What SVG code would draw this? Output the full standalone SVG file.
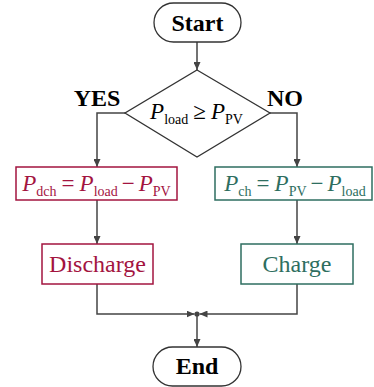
<svg xmlns="http://www.w3.org/2000/svg" width="374" height="387" viewBox="0 0 374 387">
<style>
text{font-family:"Liberation Serif","Times New Roman",serif;}
.term{fill:#fff;stroke:#333;stroke-width:1.3;}
.lbl{font-size:24px;font-weight:bold;fill:#000;text-anchor:middle;}
.red{stroke:#a3143f;fill:#fff;stroke-width:1.5;}
.grn{stroke:#2e6e60;fill:#fff;stroke-width:1.5;}
.tred{fill:#a3143f;}
.tgrn{fill:#2e6e60;}
.eq{font-size:23px;text-anchor:middle;}
.it{font-style:italic;}
.sub{font-size:14px;}
.big{font-size:24px;text-anchor:middle;}
.conn path{fill:none;stroke:#444;stroke-width:1.5;}
</style>
<defs>
<marker id="arr" viewBox="0 0 8 7" refX="8" refY="3.5" markerWidth="8" markerHeight="7" orient="auto" markerUnits="userSpaceOnUse">
<path d="M0,0 L8,3.5 L0,7 z" fill="#444"/>
</marker>
</defs>
<g id="connectors" class="conn">
<path d="M197,42 V70" marker-end="url(#arr)"/>
<path d="M125,113 H97 V167" marker-end="url(#arr)"/>
<path d="M270,113 H297 V167" marker-end="url(#arr)"/>
<path d="M97,200 V244" marker-end="url(#arr)"/>
<path d="M297,200 V244" marker-end="url(#arr)"/>
<path d="M97,284 V314 H194.5" marker-end="url(#arr)"/>
<path d="M297,284 V314 H199.5" marker-end="url(#arr)"/>
<path d="M197,314 V347" marker-end="url(#arr)"/>
<circle cx="197" cy="314" r="2.6" fill="#444"/>
</g>
<g id="start">
<rect class="term" x="154" y="3" width="87" height="39" rx="19.5"/>
<text class="lbl" x="197.5" y="31">Start</text>
</g>
<g id="decision">
<polygon points="197,70 270,113 197,157 125,113" fill="#fff" stroke="#333" stroke-width="1.3"/>
<text class="eq" x="196.5" y="119"><tspan class="it">P</tspan><tspan class="sub" dy="5">load</tspan><tspan dx="5" dy="-5">≥</tspan><tspan class="it" dx="5">P</tspan><tspan class="sub" dy="5">PV</tspan></text>
<text class="lbl" x="97" y="106">YES</text>
<text class="lbl" x="285" y="106">NO</text>
</g>
<g id="calc-dch">
<rect class="red" x="16" y="167" width="161" height="33"/>
<text class="eq tred" x="96.5" y="191"><tspan class="it">P</tspan><tspan class="sub" dy="5">dch</tspan><tspan dx="5" dy="-5">=</tspan><tspan class="it" dx="5">P</tspan><tspan class="sub" dy="5">load</tspan><tspan dx="4" dy="-5">−</tspan><tspan class="it" dx="4">P</tspan><tspan class="sub" dy="5">PV</tspan></text>
</g>
<g id="calc-ch">
<rect class="grn" x="215" y="167" width="157" height="33"/>
<text class="eq tgrn" x="295" y="191"><tspan class="it">P</tspan><tspan class="sub" dy="5">ch</tspan><tspan dx="5" dy="-5">=</tspan><tspan class="it" dx="5">P</tspan><tspan class="sub" dy="5">PV</tspan><tspan dx="4" dy="-5">−</tspan><tspan class="it" dx="4">P</tspan><tspan class="sub" dy="5">load</tspan></text>
</g>
<g id="discharge">
<rect class="red" x="42" y="244" width="111" height="40"/>
<text class="big tred" x="97.5" y="272">Discharge</text>
</g>
<g id="charge">
<rect class="grn" x="241" y="244" width="112" height="40"/>
<text class="big tgrn" x="297" y="272">Charge</text>
</g>
<g id="end">
<rect class="term" x="153" y="347" width="88" height="39" rx="19.5"/>
<text class="lbl" x="197" y="374">End</text>
</g>
</svg>
